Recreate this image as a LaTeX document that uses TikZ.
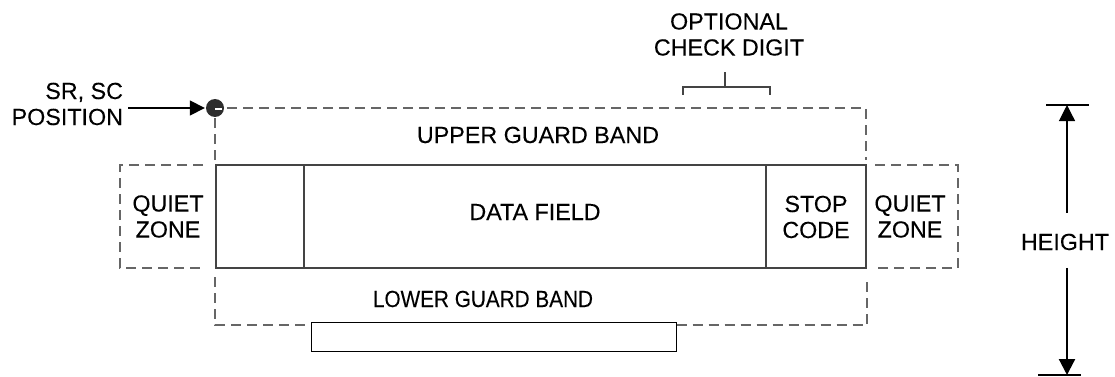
\documentclass[tikz,border=0pt]{standalone}
\usepackage{fontspec}
\setmainfont{Liberation Sans}[FakeBold=0.15]
\usetikzlibrary{arrows.meta}
\definecolor{dashgray}{HTML}{666666}
\definecolor{boxgray}{HTML}{444444}
\definecolor{dotgray}{HTML}{2E2E2E}
\begin{document}
\begin{tikzpicture}[x=1pt,y=-1pt,
  lbl/.style={font=\fontsize{23.3}{26}\selectfont, align=center, inner sep=0pt, outer sep=0pt, text=black},
  guard/.style={draw=dashgray, line width=2.6pt, dash pattern=on 10pt off 6pt},
  cell/.style={draw=boxgray, line width=1.8pt, inner sep=0pt, outer sep=0pt, minimum height=103pt},
  bracketline/.style={draw=boxgray, line width=1.8pt},
  tip/.style={-{Triangle[length=16pt,width=16pt]}},
  bar/.style={draw=black, line width=1.3pt}
]
\useasboundingbox (0,0) rectangle (1115,377);

% upper guard band dashed outline
\draw[guard] (215,160) -- (215,108) -- (866,108) -- (866,160);
% quiet zones
\draw[guard] (203,165) -- (120,165) -- (120,268) -- (203,268);
\draw[guard] (875,165) -- (958,165) -- (958,268) -- (875,268);

% lower guard band
\node[draw=black, line width=1pt, fill=white, inner sep=0pt, minimum width=365pt, minimum height=29pt] (lowbar) at (493.5,336.5) {};
\draw[guard] (215,277) -- (215,325) -- (lowbar.west |- 0,325);
\draw[guard] (lowbar.east |- 0,325) -- (867,325) -- (867,277);

% barcode cells
\node[cell, minimum width=88pt] (startc) at (260,216.5) {};
\node[cell, minimum width=462pt] (datac) at (535,216.5) {};
\node[cell, minimum width=100pt] (stopc) at (816,216.5) {};

% start position dot
\node[circle, fill=dotgray, inner sep=0pt, minimum size=18pt] (dot) at (215,108) {};
\draw[white, line width=2pt] (dot.center) ++(0,1) -- ++(7,0);

% labels
\node[lbl, align=right, anchor=east] (sr) at (123,104) {SR, SC\\POSITION};
\node[lbl] (opt) at (729,34.5) {OPTIONAL\\CHECK DIGIT};
\node[lbl] (upper) at (538,135) {UPPER GUARD BAND};
\node[lbl] (lower) at (483,299) {\scalebox{0.89}[1]{LOWER GUARD BAND}};
\node[lbl] (quietl) at (168,216.5) {QUIET\\ZONE};
\node[lbl] (quietr) at (910,216.5) {QUIET\\ZONE};
\node[lbl] (datal) at (535,212) {DATA FIELD};
\node[lbl] (stopl) at (816,217) {STOP\\CODE};
\node[lbl] (height) at (1065,242) {HEIGHT};

% SR, SC arrow
\draw[line width=1.6pt, -{Triangle[length=15pt,width=15pt]}, shorten <=5pt, shorten >=1pt] (sr.east |- dot) -- (dot.west);

% optional check digit bracket
\coordinate (bstem) at (725,72);
\coordinate (bmid) at (725,87);
\draw[bracketline] (683,95) -- (683,87) -- (770,87) -- (770,95);
\draw[bracketline] (bmid) -- (bstem);

% height dimension
\coordinate (htop) at (1067,105);
\coordinate (hbot) at (1067,375);
\draw[line width=1.2pt, tip, shorten <=21pt] (height.north -| htop) -- (htop);
\draw[line width=2.2pt, tip, shorten <=17.5pt] (height.south -| hbot) -- (hbot);
\draw[bar] (htop) ++(-21,0) -- ++(43,0);
\draw[bar] (hbot) ++(-29,0) -- ++(43,0);
\end{tikzpicture}
\end{document}
